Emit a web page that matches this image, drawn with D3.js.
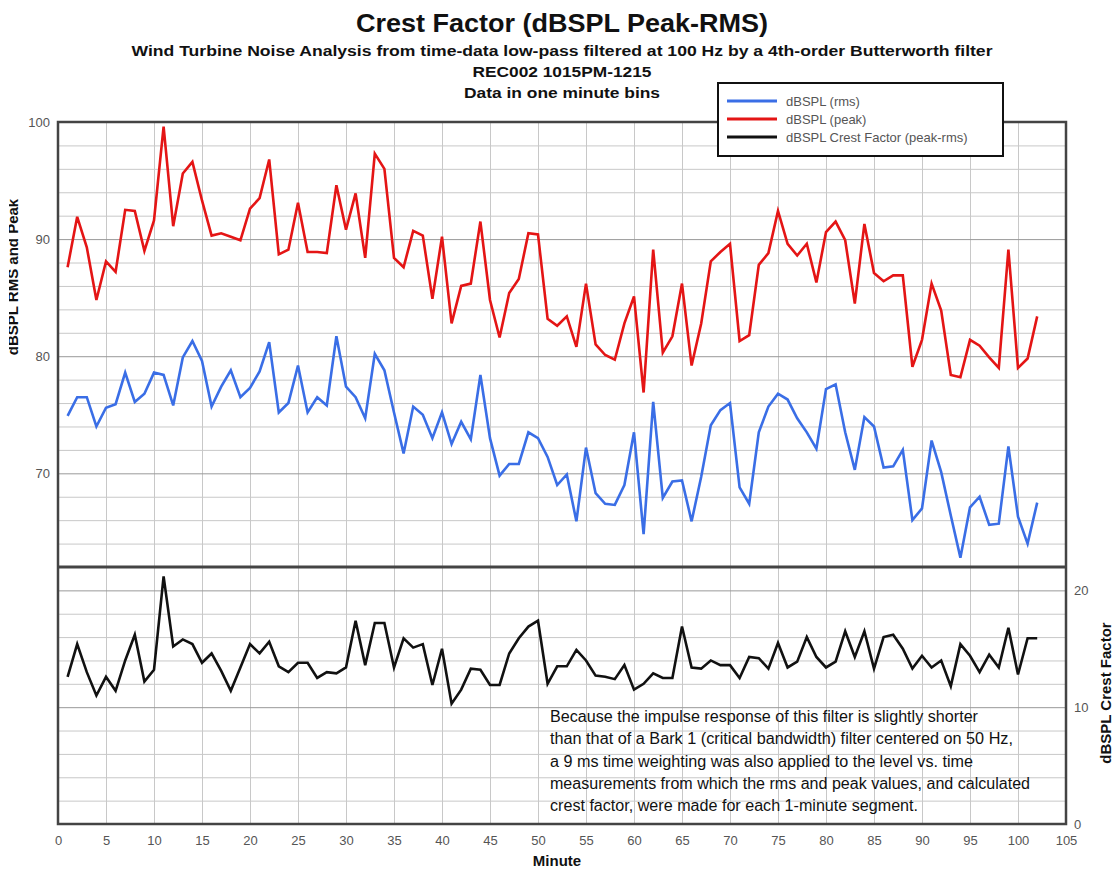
<html>
<head>
  <script src="https://d3js.org/d3.v7.min.js"></script>
  <style>
    body { margin: 0; background: #fff; }
    text { font-family: "Liberation Sans", Arial, sans-serif; }
    .grid line { stroke: #c8c8c8; stroke-width: 1; }
    .grid .major { stroke: #999; }
    .grid .domain { stroke: none; }
    .ticklabels .domain { stroke: none; }
    .ticklabels text { fill: #555; font-size: 13px; }
  </style>
</head>
<body>
<svg id="p" width="1114" height="869"></svg>
<script>
// minute bins 1..102
const minutes = d3.range(1, 103);

const rms = [74.9, 76.5, 76.5, 74.0, 75.6, 75.9, 78.6, 76.1, 76.8, 78.6,
  78.4, 75.8, 79.9, 81.3, 79.6, 75.7, 77.4, 78.8, 76.5, 77.3,
  78.7, 81.2, 75.2, 76.0, 79.2, 75.2, 76.5, 75.8, 81.7, 77.4,
  76.5, 74.7, 80.2, 78.8, 75.2, 71.7, 75.7, 75.0, 73.0, 75.2,
  72.5, 74.4, 72.9, 78.4, 73.0, 69.8, 70.8, 70.8, 73.5, 73.0,
  71.4, 69.0, 69.9, 65.9, 72.2, 68.3, 67.4, 67.3, 69.0, 73.5,
  64.8, 76.1, 67.9, 69.3, 69.4, 65.9, 69.7, 74.1, 75.4, 76.0,
  68.8, 67.4, 73.5, 75.7, 76.8, 76.3, 74.7, 73.5, 72.1, 77.2,
  77.6, 73.5, 70.3, 74.8, 74.0, 70.5, 70.6, 72.0, 66.0, 67.0,
  72.8, 70.1, 66.4, 62.8, 67.1, 68.0, 65.6, 65.7, 72.3, 66.3,
  64.0, 67.5];

const peak = [87.6, 91.9, 89.3, 84.8, 88.1, 87.2, 92.5, 92.4, 89.0, 91.6,
  99.6, 91.1, 95.6, 96.6, 93.3, 90.3, 90.5, 90.2, 89.9, 92.6,
  93.5, 96.8, 88.7, 89.1, 93.1, 88.9, 88.9, 88.8, 94.6, 90.8,
  93.9, 88.4, 97.3, 96.0, 88.4, 87.6, 90.7, 90.3, 84.9, 90.2,
  82.8, 86.0, 86.2, 91.5, 84.8, 81.6, 85.4, 86.6, 90.5, 90.4,
  83.2, 82.6, 83.4, 80.8, 86.2, 81.0, 80.1, 79.7, 82.8, 85.1,
  76.9, 89.1, 80.3, 81.7, 86.2, 79.2, 82.8, 88.1, 88.9, 89.6,
  81.3, 81.8, 87.8, 88.8, 92.4, 89.6, 88.6, 89.6, 86.3, 90.6,
  91.5, 89.9, 84.5, 91.3, 87.1, 86.4, 86.9, 86.9, 79.1, 81.4,
  86.2, 83.9, 78.4, 78.2, 81.4, 80.9, 79.9, 79.0, 89.1, 79.0,
  79.8, 83.4];

const crest = [12.6, 15.4, 13.0, 11.0, 12.6, 11.4, 14.0, 16.2, 12.2, 13.2,
  21.2, 15.2, 15.8, 15.4, 13.8, 14.6, 13.1, 11.4, 13.4, 15.4,
  14.6, 15.6, 13.5, 13.0, 13.8, 13.8, 12.5, 13.0, 12.9, 13.4,
  17.4, 13.6, 17.2, 17.2, 13.4, 15.9, 15.1, 15.4, 11.9, 15.0,
  10.3, 11.5, 13.3, 13.2, 11.9, 11.9, 14.6, 15.9, 16.9, 17.4,
  12.0, 13.5, 13.5, 14.9, 14.0, 12.7, 12.6, 12.4, 13.6, 11.5,
  12.0, 12.9, 12.5, 12.5, 16.9, 13.4, 13.3, 14.0, 13.6, 13.6,
  12.5, 14.3, 14.2, 13.3, 15.5, 13.4, 13.9, 16.0, 14.3, 13.4,
  13.9, 16.5, 14.3, 16.5, 13.3, 16.0, 16.2, 15.0, 13.3, 14.4,
  13.4, 14.0, 11.8, 15.4, 14.4, 13.0, 14.5, 13.4, 16.8, 12.8,
  15.9, 15.9];

const xTicks = d3.range(0, 106, 5);
const levelTicks = [70, 80, 90, 100];
const crestTicks = [0, 10, 20];

const titleLines = [
  "Crest Factor (dBSPL Peak-RMS)",
  "Wind Turbine Noise Analysis from time-data low-pass filtered at 100 Hz by a 4th-order Butterworth filter",
  "REC002 1015PM-1215",
  "Data in one minute bins"
];
const legendLabels = ["dBSPL (rms)", "dBSPL (peak)", "dBSPL Crest Factor (peak-rms)"];
const noteLines = [
  "Because the impulse response of this filter is slightly shorter",
  "than that of a Bark 1 (critical bandwidth) filter centered on 50 Hz,",
  "a 9 ms time weighting was also applied to the level vs. time",
  "measurements from which the rms and peak values, and calculated",
  "crest factor, were made for each 1-minute segment."
];

const svg = d3.select("svg#p");
const plotLeft = 58, plotRight = 1066, plotTop = 122, plotSplit = 567, plotBottom = 824;

const x = d3.scaleLinear().domain([0, 105]).range([plotLeft, plotRight]);
const yTop = d3.scaleLinear().domain([62, 100]).range([plotSplit, plotTop]);
const yBot = d3.scaleLinear().domain([0, 22]).range([plotBottom, plotSplit]);

// gridlines
const grid = svg.append("g").attr("class", "grid");
grid.append("g")
  .attr("transform", "translate(0," + plotBottom + ")")
  .call(d3.axisBottom(x).tickValues(xTicks).tickSize(-(plotBottom - plotTop)).tickFormat(""));
grid.append("g")
  .attr("transform", "translate(" + plotLeft + ",0)")
  .call(d3.axisLeft(yTop).tickValues(d3.range(64, 100, 2)).tickSize(-(plotRight - plotLeft)).tickFormat(""))
  .selectAll(".tick line").classed("major", d => d % 10 === 0);
grid.append("g")
  .attr("transform", "translate(" + plotLeft + ",0)")
  .call(d3.axisLeft(yBot).tickValues(d3.range(2, 22, 2)).tickSize(-(plotRight - plotLeft)).tickFormat(""))
  .selectAll(".tick line").classed("major", d => d % 10 === 0);
grid.selectAll(".tick text").remove();

// frame and panel divider
svg.append("rect")
  .attr("x", plotLeft).attr("y", plotTop)
  .attr("width", plotRight - plotLeft).attr("height", plotBottom - plotTop)
  .attr("fill", "none").attr("stroke", "#444").attr("stroke-width", 2.5);
svg.append("line")
  .attr("x1", plotLeft).attr("x2", plotRight).attr("y1", plotSplit).attr("y2", plotSplit)
  .attr("stroke", "#444").attr("stroke-width", 3);

// tick labels
svg.append("g").attr("class", "ticklabels")
  .attr("transform", "translate(" + plotLeft + ",0)")
  .call(d3.axisLeft(yTop).tickValues(levelTicks).tickSize(0).tickPadding(8));
svg.append("g").attr("class", "ticklabels")
  .attr("transform", "translate(" + plotRight + ",0)")
  .call(d3.axisRight(yBot).tickValues(crestTicks).tickSize(0).tickPadding(8));
svg.append("g").attr("class", "ticklabels")
  .attr("transform", "translate(0," + plotBottom + ")")
  .call(d3.axisBottom(x).tickValues(xTicks).tickSize(0).tickPadding(12));

// series
const rows = minutes.map((m, i) => ({m: m, rms: rms[i], peak: peak[i], crest: crest[i]}));
const series = [
  {key: "rms", color: "#3a6ee6", y: yTop},
  {key: "peak", color: "#e41515", y: yTop},
  {key: "crest", color: "#111", y: yBot}
];
series.forEach(s => {
  svg.append("path")
    .datum(rows)
    .attr("fill", "none")
    .attr("stroke", s.color)
    .attr("stroke-width", 2.6)
    .attr("d", d3.line().x(d => x(d.m)).y(d => s.y(d[s.key])));
});

// titles
const titleY = [32, 56, 77, 98];
const titleLen = [412, 861, 179, 196];
titleLines.forEach((t, i) => {
  svg.append("text")
    .attr("x", 562).attr("y", titleY[i])
    .attr("text-anchor", "middle")
    .attr("font-weight", "bold")
    .attr("font-size", i === 0 ? 25 : 14)
    .attr("textLength", titleLen[i])
    .attr("lengthAdjust", "spacingAndGlyphs")
    .attr("fill", "#111")
    .text(t);
});

// axis titles (left one is cut at the image edge in the source)
svg.append("clipPath").attr("id", "leftcut")
  .append("rect").attr("x", 9).attr("y", 0).attr("width", 40).attr("height", 869);
svg.append("g").attr("clip-path", "url(#leftcut)")
  .append("text")
  .attr("transform", "translate(18,277) rotate(-90)")
  .attr("text-anchor", "middle")
  .attr("font-weight", "bold").attr("font-size", 15).attr("fill", "#111")
  .text("dBSPL RMS and Peak");
svg.append("text")
  .attr("transform", "translate(1111,693) rotate(-90)")
  .attr("text-anchor", "middle")
  .attr("font-weight", "bold").attr("font-size", 15).attr("fill", "#111")
  .text("dBSPL Crest Factor");
svg.append("text")
  .attr("x", 557).attr("y", 866)
  .attr("text-anchor", "middle")
  .attr("font-weight", "bold").attr("font-size", 15).attr("fill", "#111")
  .text("Minute");

// legend
const legend = svg.append("g").attr("transform", "translate(718,83)");
legend.append("rect")
  .attr("width", 285).attr("height", 73)
  .attr("fill", "#fff").attr("stroke", "#111").attr("stroke-width", 2);
legendLabels.forEach((l, i) => {
  const ly = 18 + i * 18;
  legend.append("line")
    .attr("x1", 9).attr("x2", 59).attr("y1", ly).attr("y2", ly)
    .attr("stroke", series[i].color).attr("stroke-width", 3);
  legend.append("text")
    .attr("x", 68).attr("y", ly)
    .attr("dy", "0.35em")
    .attr("font-size", 13).attr("fill", "#555")
    .text(l);
});

// note
const noteLen = [428, 463, 423, 480, 368];
noteLines.forEach((t, i) => {
  svg.append("text")
    .attr("x", 550).attr("y", 722 + i * 22.3)
    .attr("font-family", "Lato, 'Open Sans', sans-serif")
    .attr("font-size", 16).attr("fill", "#111")
    .attr("textLength", noteLen[i])
    .attr("lengthAdjust", "spacingAndGlyphs")
    .text(t);
});
</script>
</body>
</html>
